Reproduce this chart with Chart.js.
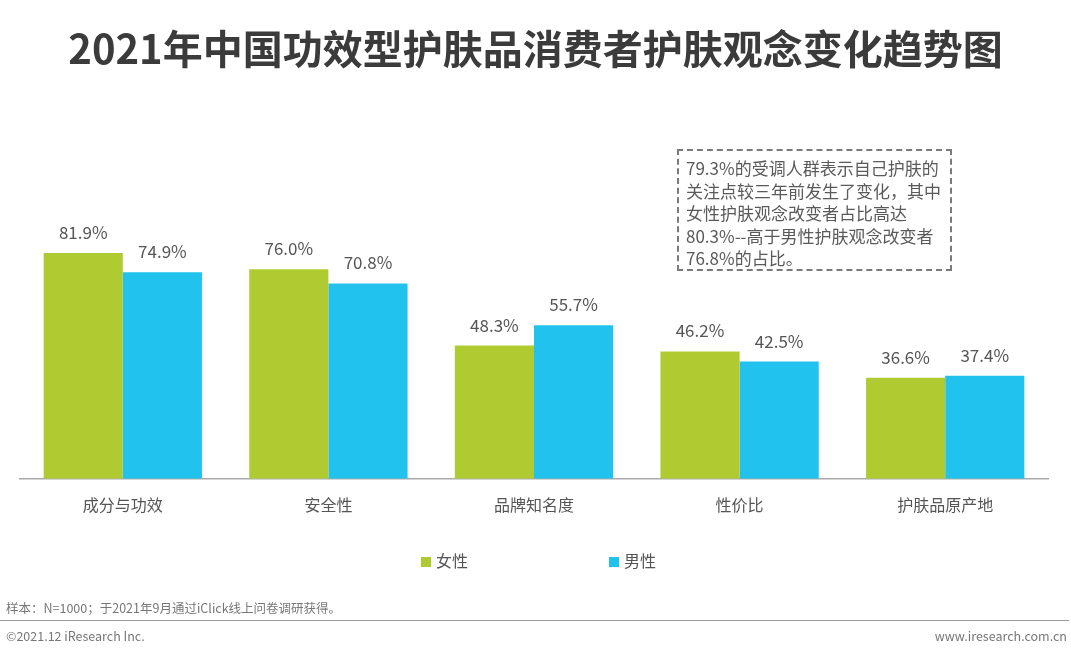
<!DOCTYPE html>
<html>
<head>
<meta charset="utf-8">
<script src="https://cdn.jsdelivr.net/npm/chart.js@4"></script>
<style>
  html, body { margin: 0; padding: 0; background: #fff; }
  body { width: 1071px; height: 655px; position: relative; overflow: hidden;
         font-family: "Noto Sans CJK SC", "Noto Sans", sans-serif; color: #595959; }
  #wrap { position: absolute; left: 0; top: 0; width: 1071px; height: 655px; }
  .title { position: absolute; left: 0; width: 1071px; top: 21px; text-align: center;
           font-size: 40px; font-weight: bold; color: #3b3b3b; line-height: 52px; }
  .note { position: absolute; left: 677px; top: 149px; width: 258px; height: 106px;
          border: 2px dashed #7a7a7a; padding: 6px 6px 6px 7px; font-size: 17px;
          line-height: 22.6px; color: #5a5a5a; }
  .legend { position: absolute; top: 548px; font-size: 16px; color: #555; line-height: 24px; }
  .legend i { display: inline-block; width: 10px; height: 10px; margin-right: 5px; vertical-align: 0px; }
  .src { position: absolute; left: 6px; top: 598px; font-size: 12.5px; color: #777; }
  .rule { position: absolute; left: 0; top: 620px; width: 1069px; height: 1px; background: #9a9a9a; }
  .foot { position: absolute; top: 626px; font-size: 12.5px; color: #777; }
</style>
</head>
<body>
<div id="wrap"><canvas id="chart" width="1071" height="655"></canvas></div>
<div class="title">2021年中国功效型护肤品消费者护肤观念变化趋势图</div>
<div class="note">79.3%的受调人群表示自己护肤的关注点较三年前发生了变化，其中女性护肤观念改变者占比高达80.3%--高于男性护肤观念改变者76.8%的占比。</div>
<div class="legend" style="left:421px"><i style="background:#b0cb32"></i>女性</div>
<div class="legend" style="left:609px"><i style="background:#21c2ee"></i>男性</div>
<div class="src">样本：N=1000；于2021年9月通过iClick线上问卷调研获得。</div>
<div class="rule"></div>
<div class="foot" style="left:6px">©2021.12 iResearch Inc.</div>
<div class="foot" style="right:4px">www.iresearch.com.cn</div>
<script>
const categories = ['成分与功效', '安全性', '品牌知名度', '性价比', '护肤品原产地'];
const seriesNames = ['女性', '男性'];
const femaleValues = [81.9, 76.0, 48.3, 46.2, 36.6];
const maleValues = [74.9, 70.8, 55.7, 42.5, 37.4];
const seriesColors = ['#b0cb32', '#21c2ee'];

// value labels above each bar
const valueLabels = {
  id: 'valueLabels',
  afterDatasetsDraw(chart) {
    const ctx = chart.ctx;
    ctx.save();
    ctx.font = '17px "Noto Sans CJK SC", "Noto Sans", sans-serif';
    ctx.fillStyle = '#555';
    ctx.textAlign = 'center';
    ctx.textBaseline = 'bottom';
    chart.data.datasets.forEach((ds, i) => {
      chart.getDatasetMeta(i).data.forEach((bar, j) => {
        ctx.fillText(ds.data[j].toFixed(1) + '%', bar.x, bar.y - 12);
      });
    });
    ctx.restore();
  }
};

new Chart(document.getElementById('chart'), {
  type: 'bar',
  data: {
    labels: categories,
    datasets: [
      { label: seriesNames[0], data: femaleValues, backgroundColor: seriesColors[0] },
      { label: seriesNames[1], data: maleValues, backgroundColor: seriesColors[1] }
    ]
  },
  options: {
    responsive: false,
    animation: false,
    layout: { padding: { left: 20, right: 23, top: 203, bottom: 123 } },
    datasets: { bar: { categoryPercentage: 0.77, barPercentage: 1.0 } },
    plugins: { legend: { display: false }, tooltip: { enabled: false } },
    scales: {
      x: {
        grid: { display: false, drawTicks: false },
        border: { display: true, color: '#aaa', width: 1.5 },
        ticks: { color: '#555', padding: 17, font: { size: 16, family: '"Noto Sans CJK SC", sans-serif' } }
      },
      y: {
        display: false,
        min: 0,
        max: 100
      }
    }
  },
  plugins: [valueLabels]
});
</script>
</body>
</html>
